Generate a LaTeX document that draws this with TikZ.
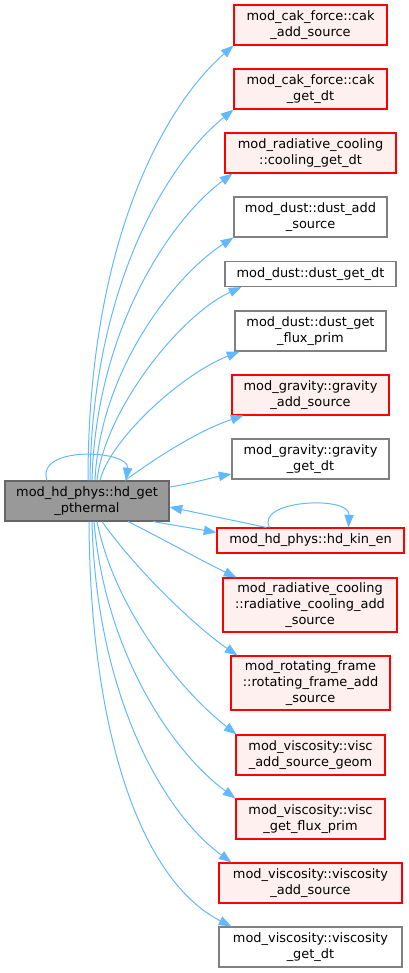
\documentclass[tikz,border=0pt]{standalone}
\usepackage{fontspec}
\setmainfont{DejaVu Sans}
\usetikzlibrary{arrows.meta,calc}
\definecolor{edgeblue}{HTML}{63B8FF}
\definecolor{truncfill}{HTML}{FFF0F0}
\definecolor{mainfill}{HTML}{999999}
\definecolor{maindraw}{HTML}{666666}
\definecolor{nodegray}{HTML}{808080}

\begin{document}
\begin{tikzpicture}[x=0.75pt,y=-0.75pt,
		fn/.style={draw=nodegray,fill=white,line width=0.8pt,inner sep=0pt,
			align=center,font=\fontsize{9.7}{12}\selectfont,minimum height=30pt},
		trunc/.style={fn,draw=red,fill=truncfill},
		cur/.style={fn,draw=maindraw,fill=mainfill},
		wd/.style={minimum width=0.75pt*#1},
		oneline/.style={minimum height=18.75pt},
		threeline/.style={minimum height=40.5pt},
		calls/.style={draw=edgeblue,line width=0.75pt,-{Triangle[length=9.5pt,width=7pt]}}]
		\useasboundingbox (0,0) rectangle (409,973);
		%
		\node[cur,wd=164] (main) at (87,501) {mod\_hd\_phys::hd\_get\\\_pthermal};
		%
		\node[trunc,wd=153] (cakadd) at (310.5,25) {mod\_cak\_force::cak\\\_add\_source};
		\node[trunc,wd=153] (cakdt) at (310.5,89) {mod\_cak\_force::cak\\\_get\_dt};
		\node[trunc,wd=171] (coolingdt) at (310.5,153) {mod\_radiative\_cooling\\::cooling\_get\_dt};
		\node[fn,wd=153] (dustadd) at (310.5,217) {mod\_dust::dust\_add\\\_source};
		\node[fn,oneline,wd=171] (dustdt) at (310.5,274) {mod\_dust::dust\_get\_dt};
		\node[fn,wd=151] (dustflux) at (310.5,331) {mod\_dust::dust\_get\\\_flux\_prim};
		\node[trunc,wd=157] (gravadd) at (310.5,395) {mod\_gravity::gravity\\\_add\_source};
		\node[fn,wd=157] (gravdt) at (310.5,459) {mod\_gravity::gravity\\\_get\_dt};
		\node[trunc,oneline,wd=187] (kinen) at (310.5,540.5) {mod\_hd\_phys::hd\_kin\_en};
		\node[trunc,threeline,wd=174] (radadd) at (310,605) {mod\_radiative\_cooling\\::radiative\_cooling\_add\\\_source};
		\node[trunc,threeline,wd=159] (rotadd) at (310.5,683) {mod\_rotating\_frame\\::rotating\_frame\_add\\\_source};
		\node[trunc,wd=149] (viscgeom) at (310.5,755) {mod\_viscosity::visc\\\_add\_source\_geom};
		\node[trunc,wd=149] (viscflux) at (310.5,819) {mod\_viscosity::visc\\\_get\_flux\_prim};
		\node[trunc,wd=183] (viscadd) at (310.5,883) {mod\_viscosity::viscosity\\\_add\_source};
		\node[fn,wd=183] (viscdt) at (310.5,947) {mod\_viscosity::viscosity\\\_get\_dt};
		%
		% self calls
		\draw[calls] ($(main.north)+(-40,0)$) .. controls (35,445) and (130,450) .. ($(main.north)+(39,0)$);
		\draw[calls] ($(kinen.north west)+(53,0)$) .. controls (255,500) and (350,495) .. ($(kinen.north west)+(132,0)$);
		%
		% upward calls
		\draw[calls] ($(main.north)+(1,0)$) .. controls (88,250) and (160,110) .. (cakadd.south west);
		\draw[calls] ($(main.north)+(3,0)$) .. controls (92,290) and (165,165) .. (cakdt.south west);
		\draw[calls] ($(main.north)+(5,0)$) .. controls (96,330) and (170,220) .. ($(coolingdt.south west)+(8,0)$);
		\draw[calls] ($(main.north)+(8,0)$) .. controls (100,370) and (175,275) .. (dustadd.south west);
		\draw[calls] ($(main.north)+(10,0)$) .. controls (105,410) and (180,315) .. ($(dustdt.south west)+(17,0)$);
		\draw[calls] ($(main.north)+(13,0)$) .. controls (110,440) and (180,375) .. ($(dustflux.south west)+(5,0)$);
		\draw[calls] ($(main.north)+(38,0)$) .. controls (160,455) and (200,430) .. ($(gravadd.south west)+(12,0)$);
		\draw[calls] ($(main.east)+(0,-14)$) .. controls (190,484) and (210,478) .. ($(gravdt.west)+(0,15)$);
		%
		% hd_kin_en both ways
		\draw[calls] ($(kinen.north west)+(50,0)$) -- ($(main.east)+(0,6)$);
		\draw[calls] ($(main.south)+(66,0)$) -- ($(kinen.north west)+(0,5)$);
		%
		% downward calls
		\draw[calls] ($(main.south)+(41,0)$) .. controls (165,540) and (200,560) .. ($(radadd.north west)+(14,0)$);
		\draw[calls] ($(main.south)+(15,0)$) .. controls (140,575) and (200,630) .. ($(rotadd.north west)+(7,0)$);
		\draw[calls] ($(main.south)+(10,0)$) .. controls (115,610) and (180,690) .. ($(viscgeom.north west)+(1,0)$);
		\draw[calls] ($(main.south)+(7,0)$) .. controls (105,650) and (170,750) .. (viscflux.north west);
		\draw[calls] ($(main.south)+(5,0)$) .. controls (96,690) and (160,810) .. ($(viscadd.north west)+(13,0)$);
		\draw[calls] ($(main.south)+(2,0)$) .. controls (90,730) and (140,880) .. ($(viscdt.north west)+(13,0)$);
\end{tikzpicture}
\end{document}
